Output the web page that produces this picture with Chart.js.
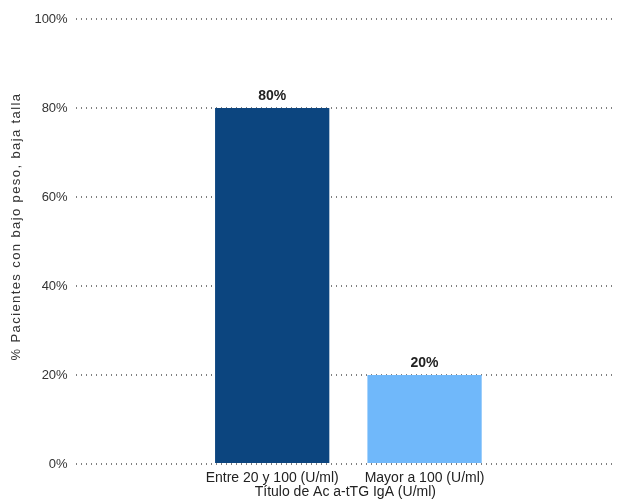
<!DOCTYPE html>
<html>
<head>
<meta charset="utf-8">
<script src="https://cdn.jsdelivr.net/npm/chart.js@4"></script>
<style>
  html, body { margin: 0; padding: 0; background: #fff; }
  #wrap { width: 617px; height: 499px; }
</style>
</head>
<body>
<div id="wrap"><canvas id="c" width="617" height="499"></canvas></div>
<script>
// Category labels and values (percent of patients)
const categories = ['Entre 20 y 100 (U/ml)', 'Mayor a 100 (U/ml)'];
const values = [80, 20];
const barColors = ['#0c457f', '#70b8fa'];
const yTicks = [0, 20, 40, 60, 80, 100];
const xTitle = 'Título de Ac a-tTG IgA (U/ml)';
const yTitle = '% Pacientes con bajo peso, baja talla';

const FONT = '"Liberation Sans", Arial, sans-serif';
const points = values.map((v, i) => ({ x: i, y: v }));

// Value labels over each bar
const valueLabels = {
  id: 'valueLabels',
  afterDatasetsDraw(chart) {
    const ctx = chart.ctx;
    const meta = chart.getDatasetMeta(0);
    ctx.save();
    ctx.font = 'bold 14px ' + FONT;
    ctx.fillStyle = '#222';
    ctx.textAlign = 'center';
    ctx.textBaseline = 'bottom';
    meta.data.forEach((bar, i) => {
      ctx.fillText(values[i] + '%', bar.x, bar.y - 5);
    });
    ctx.restore();
  }
};

// Spaced-out vertical axis title (space for it is reserved by the scale's own title)
const yTitleSpaced = {
  id: 'yTitleSpaced',
  afterDraw(chart) {
    const ctx = chart.ctx;
    const y = chart.scales.y;
    ctx.save();
    ctx.font = '13px ' + FONT;
    ctx.fillStyle = '#333';
    ctx.textAlign = 'center';
    ctx.textBaseline = 'middle';
    if ('letterSpacing' in ctx) ctx.letterSpacing = '1.4px';
    ctx.translate(y.left + 7, (chart.chartArea.top + chart.chartArea.bottom) / 2 - 15);
    ctx.rotate(-Math.PI / 2);
    ctx.fillText(yTitle, 0, 0);
    ctx.restore();
  }
};

new Chart(document.getElementById('c'), {
  type: 'bar',
  data: {
    datasets: [{
      data: points,
      backgroundColor: barColors,
      borderWidth: 0,
      categoryPercentage: 1,
      barPercentage: 0.75
    }]
  },
  options: {
    responsive: false,
    animation: false,
    layout: { padding: { left: 9, right: 2, top: 19, bottom: 0 } },
    plugins: { legend: { display: false }, tooltip: { enabled: false } },
    scales: {
      x: {
        type: 'linear',
        min: -1.29,
        max: 2.25,
        offset: false,
        grid: { display: false, drawTicks: false },
        border: { display: false },
        afterBuildTicks(axis) {
          axis.ticks = categories.map((_, i) => ({ value: i }));
        },
        afterFit(axis) {
          axis.height = 35;
        },
        ticks: {
          autoSkip: false,
          maxRotation: 0,
          padding: 6,
          color: '#222',
          font: { family: FONT, size: 14 },
          callback: (v) => categories[v] ?? ''
        },
        title: {
          display: true,
          text: xTitle,
          color: '#222',
          padding: { top: 0, bottom: 0 },
          font: { family: FONT, size: 14, lineHeight: 1.05 }
        }
      },
      y: {
        min: 0,
        max: 100,
        afterBuildTicks(axis) {
          axis.ticks = yTicks.map(v => ({ value: v }));
        },
        grid: { color: '#808080', lineWidth: 2, drawTicks: false },
        border: { display: false, dash: [1, 4] },
        ticks: {
          padding: 8,
          color: '#333',
          font: { family: FONT, size: 13 },
          callback: (v) => v + '%'
        },
        title: {
          display: true,
          text: yTitle,
          color: 'rgba(0,0,0,0)',
          padding: { top: 0, bottom: 3 },
          font: { family: FONT, size: 12 }
        }
      }
    }
  },
  plugins: [valueLabels, yTitleSpaced]
});
</script>
</body>
</html>
